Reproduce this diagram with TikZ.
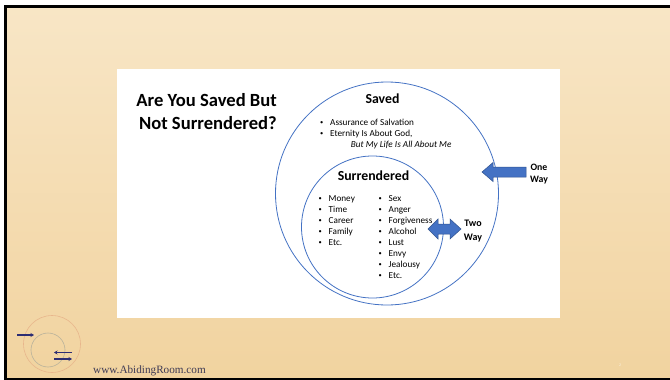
\documentclass[tikz,border=0pt]{standalone}
\usepackage{fontspec}
\setmainfont{Carlito}
\newfontfamily\serifweb{Liberation Serif}
\usetikzlibrary{arrows.meta}
\definecolor{bgtop}{RGB}{248,230,198}
\definecolor{bgbot}{RGB}{241,211,159}
\definecolor{ringblue}{RGB}{68,114,196}
\definecolor{arrowedge}{RGB}{47,82,143}
\definecolor{logonavy}{RGB}{45,45,115}
\definecolor{logoorange}{RGB}{232,182,140}
\definecolor{logogray}{RGB}{185,178,155}
\definecolor{webtext}{RGB}{62,58,85}
\tikzset{
  ring/.style={draw=ringblue,line width=0.8pt},
  blockarrow/.style={fill=ringblue,draw=arrowedge,line width=0.5pt},
  titletext/.style={font=\bfseries\fontsize{18.6}{23}\selectfont,align=right,anchor=north east,inner sep=0pt},
  headtext/.style={font=\bfseries\fontsize{13.8}{16}\selectfont,inner sep=0pt},
  bodytext/.style={font=\fontsize{9.2}{11}\selectfont,align=left,anchor=north west,inner sep=0pt},
  waytext/.style={font=\bfseries\fontsize{10}{14}\selectfont,align=center,inner sep=0pt},
  logoarrow/.style={draw=logonavy,line width=1.2pt,-{Stealth[length=3.5pt,width=4pt]}}
}
\newcommand{\bul}{\makebox[10pt][l]{\raisebox{1pt}{\scalebox{0.7}{•}}}}
\begin{document}
\begin{tikzpicture}[x=1pt,y=-1pt]
\useasboundingbox (0,0) rectangle (670,380);
\fill[white] (0,0) rectangle (670,380);
\shade[top color=bgtop,bottom color=bgbot] (4,5) rectangle (670,380);
\fill[black] (4,5) rectangle (670,7.5);
\fill[black] (4,378) rectangle (670,380);
\fill[black] (4,5) rectangle (7,380);
\fill[white] (117,69) rectangle (560,318);
\node[ring,circle,minimum size=223pt,inner sep=0pt] (saved) at (387,193.5) {};
\node[ring,circle,minimum size=142pt,inner sep=0pt] (surr) at (372.5,227) {};
\node[titletext] (title) at (277,93.5) {Are You Saved But\\Not Surrendered?};
\node[headtext] (savedh) at (382.5,99) {Saved};
\node[bodytext] (savedl) at (320,118.5) {\bul Assurance of Salvation\\\bul Eternity Is About God,\\\hspace*{30.7pt}\textit{But My Life Is All About Me}};
\node[headtext] (surrh) at (373.5,176) {Surrendered};
\node[bodytext] (left) at (318.5,195.5) {\bul Money\\\bul Time\\\bul Career\\\bul Family\\\bul Etc.};
\node[bodytext] (right) at (378.5,195.5) {\bul Sex\\\bul Anger\\\bul Forgiveness\\\bul Alcohol\\\bul Lust\\\bul Envy\\\bul Jealousy\\\bul Etc.};
\draw[blockarrow] (482,172) -- (493,162.5) -- (493,167) -- (526,167) -- (526,177) -- (493,177) -- (493,181.5) -- cycle;
\draw[blockarrow] (428,229) -- (438,219) -- (438,224) -- (450,224) -- (450,219) -- (461,229) -- (450,239) -- (450,234) -- (438,234) -- (438,239) -- cycle;
\node[waytext,font=\bfseries\fontsize{9.8}{12}\selectfont] (oneway) at (539,174.5) {One\\Way};
\node[waytext] (twoway) at (473,231) {Two\\Way};
\node[circle,draw=logoorange,line width=0.6pt,minimum size=57pt,inner sep=0pt] (logoa) at (52,344) {};
\node[circle,draw=logogray,line width=0.6pt,minimum size=34pt,inner sep=0pt] (logob) at (48,350) {};
\coordinate (a1) at (17,335); \coordinate (a2) at (34,335);
\coordinate (b1) at (72,352.5); \coordinate (b2) at (54,352.5);
\coordinate (c1) at (54,359); \coordinate (c2) at (72,359);
\draw[logoarrow] (a1) -- (a2);
\draw[logoarrow] (b1) -- (b2);
\draw[logoarrow] (c1) -- (c2);
\node[font=\serifweb\fontsize{11.2}{13}\selectfont,text=webtext,anchor=west,inner sep=0pt] (web) at (93,371) {www.AbidingRoom.com};
\node[font=\serifweb\fontsize{4}{5}\selectfont,text=white!80!bgbot,inner sep=0pt] (pg) at (620,365) {2};
\end{tikzpicture}
\end{document}
